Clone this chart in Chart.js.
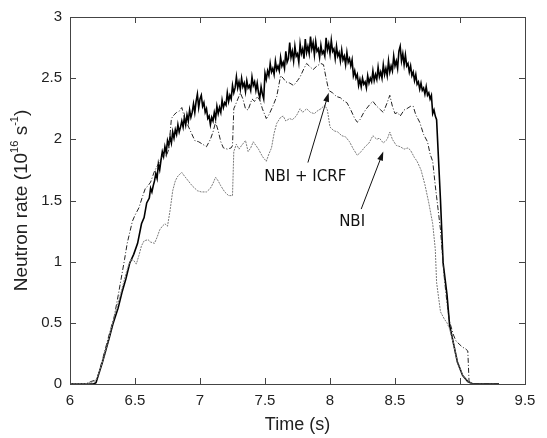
<!DOCTYPE html>
<html>
<head>
<meta charset="utf-8">
<script src="https://cdn.jsdelivr.net/npm/chart.js@4.4.0/dist/chart.umd.min.js"></script>
<style>
  html, body { margin: 0; padding: 0; background: #fff; }
  #wrap { width: 547px; height: 438px; }
</style>
</head>
<body>
<div id="wrap"><canvas id="chart" width="547" height="438"></canvas></div>
<script>
// tick values and labels
const xTicks = [6, 6.5, 7, 7.5, 8, 8.5, 9, 9.5];
const xTickLabels = ['6', '6.5', '7', '7.5', '8', '8.5', '9', '9.5'];
const yTicks = [0, 0.5, 1, 1.5, 2, 2.5, 3];
const yTickLabels = ['0', '0.5', '1', '1.5', '2', '2.5', '3'];

// solid black trace (time in s, rate in 1e16 /s)
const tSolid = [6.00, 6.18, 6.20, 6.25, 6.30, 6.33, 6.37, 6.40, 6.43, 6.46, 6.49, 6.52, 6.55, 6.57, 6.59,
  6.61, 6.62, 6.63, 6.64, 6.65, 6.66, 6.67, 6.68, 6.69, 6.70,
  6.71, 6.72, 6.73, 6.74, 6.75, 6.76, 6.77, 6.78, 6.79, 6.80,
  6.81, 6.82, 6.83, 6.84, 6.85, 6.86, 6.87, 6.88, 6.89, 6.90,
  6.91, 6.92, 6.93, 6.94, 6.95, 6.96, 6.97, 6.98, 6.99, 7.00,
  7.01, 7.02, 7.03, 7.04, 7.05, 7.06, 7.07, 7.08, 7.09, 7.10,
  7.11, 7.12, 7.13, 7.14, 7.15, 7.16, 7.17, 7.18, 7.19, 7.20,
  7.21, 7.22, 7.23, 7.24, 7.25, 7.26, 7.27, 7.28, 7.29, 7.30,
  7.31, 7.32, 7.33, 7.34, 7.35, 7.36, 7.37, 7.38, 7.39, 7.40,
  7.41, 7.42, 7.43, 7.44, 7.45, 7.46, 7.47, 7.48, 7.49, 7.50,
  7.51, 7.52, 7.53, 7.54, 7.55, 7.56, 7.57, 7.58, 7.59, 7.60,
  7.61, 7.62, 7.63, 7.64, 7.65, 7.66, 7.67, 7.68, 7.69, 7.70,
  7.71, 7.72, 7.73, 7.74, 7.75, 7.76, 7.77, 7.78, 7.79, 7.80,
  7.81, 7.82, 7.83, 7.84, 7.85, 7.86, 7.87, 7.88, 7.89, 7.90,
  7.91, 7.92, 7.93, 7.94, 7.95, 7.96, 7.97, 7.98, 7.99, 8.00,
  8.01, 8.02, 8.03, 8.04, 8.05, 8.06, 8.07, 8.08, 8.09, 8.10,
  8.11, 8.12, 8.13, 8.14, 8.15, 8.16, 8.17, 8.18, 8.19, 8.20,
  8.21, 8.22, 8.23, 8.24, 8.25, 8.26, 8.27, 8.28, 8.29, 8.30,
  8.31, 8.32, 8.33, 8.34, 8.35, 8.36, 8.37, 8.38, 8.39, 8.40,
  8.41, 8.42, 8.43, 8.44, 8.45, 8.46, 8.47, 8.48, 8.49, 8.50,
  8.51, 8.52, 8.53, 8.54, 8.55, 8.56, 8.57, 8.58, 8.59, 8.60,
  8.61, 8.62, 8.63, 8.64, 8.65, 8.66, 8.67, 8.68, 8.69, 8.70,
  8.71, 8.72, 8.73, 8.74, 8.75, 8.76, 8.77, 8.78, 8.79, 8.80,
  8.81, 8.82, 8.85, 8.87, 8.90, 8.92, 8.95, 8.98, 9.02, 9.06, 9.10, 9.30];
const nSolid = [0.00, 0.00, 0.01, 0.18, 0.37, 0.49, 0.62, 0.75, 0.86, 0.99, 1.06, 1.15, 1.31, 1.36, 1.48,
  1.52, 1.60, 1.57, 1.62, 1.66, 1.72, 1.68, 1.80, 1.75, 1.83,
  1.90, 1.86, 1.94, 1.89, 1.99, 1.95, 2.02, 1.97, 2.06, 2.01,
  2.08, 2.04, 2.12, 2.06, 2.10, 2.15, 2.10, 2.18, 2.12, 2.20,
  2.15, 2.24, 2.18, 2.22, 2.29, 2.22, 2.31, 2.37, 2.26, 2.33,
  2.36, 2.27, 2.30, 2.22, 2.25, 2.17, 2.19, 2.12, 2.18, 2.15,
  2.22, 2.17, 2.27, 2.21, 2.26, 2.22, 2.32, 2.26, 2.30, 2.28,
  2.38, 2.31, 2.36, 2.33, 2.44, 2.38, 2.42, 2.51, 2.42, 2.47,
  2.41, 2.50, 2.43, 2.46, 2.39, 2.48, 2.42, 2.44, 2.40, 2.51,
  2.44, 2.47, 2.40, 2.46, 2.38, 2.34, 2.43, 2.37, 2.33, 2.54,
  2.49, 2.56, 2.52, 2.62, 2.55, 2.58, 2.53, 2.64, 2.57, 2.60,
  2.56, 2.67, 2.60, 2.63, 2.58, 2.72, 2.63, 2.66, 2.79, 2.67,
  2.72, 2.64, 2.76, 2.68, 2.70, 2.63, 2.78, 2.70, 2.74, 2.66,
  2.82, 2.71, 2.76, 2.70, 2.84, 2.74, 2.79, 2.69, 2.80, 2.72,
  2.74, 2.67, 2.77, 2.70, 2.72, 2.68, 2.83, 2.73, 2.78, 2.70,
  2.81, 2.72, 2.74, 2.66, 2.76, 2.68, 2.71, 2.64, 2.73, 2.65,
  2.68, 2.61, 2.71, 2.63, 2.66, 2.60, 2.65, 2.52, 2.56, 2.50,
  2.53, 2.44, 2.49, 2.43, 2.50, 2.45, 2.47, 2.42, 2.52, 2.46,
  2.50, 2.47, 2.56, 2.48, 2.53, 2.49, 2.59, 2.51, 2.55, 2.50,
  2.61, 2.53, 2.58, 2.52, 2.64, 2.55, 2.60, 2.56, 2.68, 2.60,
  2.64, 2.58, 2.72, 2.76, 2.64, 2.70, 2.61, 2.69, 2.60, 2.62,
  2.55, 2.60, 2.52, 2.55, 2.48, 2.53, 2.45, 2.47, 2.41, 2.46,
  2.40, 2.42, 2.37, 2.43, 2.36, 2.38, 2.33, 2.36, 2.21, 2.24,
  2.19, 2.16, 1.50, 0.99, 0.73, 0.48, 0.33, 0.18, 0.07, 0.02, 0.00, 0.00];

// dash-dot trace
const tDash = [6.00, 6.12, 6.16, 6.19, 6.21, 6.25, 6.30, 6.34, 6.37, 6.40, 6.42, 6.44, 6.46, 6.48, 6.50, 6.53, 6.56, 6.58, 6.60, 6.62,
  6.65, 6.68, 6.70, 6.72, 6.74, 6.76, 6.78, 6.80, 6.82, 6.84, 6.86, 6.88, 6.90, 6.93, 6.96, 6.99, 7.02, 7.05, 7.08, 7.10,
  7.12, 7.14, 7.16, 7.18, 7.21, 7.24, 7.25, 7.26, 7.28, 7.31, 7.33, 7.35, 7.37, 7.40, 7.42, 7.44, 7.46, 7.48, 7.51, 7.53,
  7.56, 7.59, 7.62, 7.64, 7.66, 7.69, 7.72, 7.75, 7.77, 7.80, 7.82, 7.85, 7.87, 7.90, 7.93, 7.95, 7.97, 7.99, 8.02, 8.05,
  8.08, 8.11, 8.13, 8.16, 8.19, 8.21, 8.23, 8.26, 8.28, 8.31, 8.33, 8.36, 8.39, 8.41, 8.44, 8.46, 8.48, 8.50, 8.52, 8.54,
  8.57, 8.59, 8.62, 8.64, 8.66, 8.69, 8.72, 8.75, 8.77, 8.79, 8.81, 8.82, 8.85, 8.88, 8.90, 8.92, 8.95, 8.97, 9.00, 9.02,
  9.04, 9.06, 9.07, 9.10, 9.30];
const nDash = [0.00, 0.00, 0.02, 0.03, 0.05, 0.20, 0.40, 0.55, 0.72, 0.90, 1.02, 1.15, 1.24, 1.33, 1.38, 1.44, 1.54, 1.60, 1.62, 1.65,
  1.74, 1.80, 1.84, 1.88, 1.86, 1.92, 2.17, 2.20, 2.22, 2.23, 2.26, 2.18, 2.13, 2.06, 1.99, 1.98, 1.96, 1.94, 2.00, 2.06,
  2.14, 2.07, 1.98, 1.93, 1.92, 1.93, 1.95, 2.25, 2.30, 2.38, 2.33, 2.25, 2.24, 2.33, 2.31, 2.35, 2.32, 2.25, 2.17, 2.20,
  2.27, 2.35, 2.52, 2.50, 2.47, 2.46, 2.44, 2.48, 2.51, 2.58, 2.62, 2.59, 2.57, 2.60, 2.62, 2.61, 2.50, 2.40, 2.38, 2.35,
  2.34, 2.31, 2.30, 2.24, 2.17, 2.14, 2.16, 2.22, 2.25, 2.29, 2.31, 2.27, 2.24, 2.22, 2.30, 2.36, 2.27, 2.21, 2.22, 2.19,
  2.24, 2.25, 2.27, 2.27, 2.20, 2.14, 2.04, 1.98, 1.88, 1.82, 1.62, 1.53, 1.26, 0.86, 0.66, 0.51, 0.40, 0.35, 0.32, 0.30,
  0.29, 0.27, 0.01, 0.00, 0.00];

// grey dotted trace
const tGray = [6.00, 6.12, 6.15, 6.18, 6.20, 6.22, 6.26, 6.30, 6.34, 6.37, 6.40, 6.43, 6.45, 6.47, 6.49, 6.51, 6.53, 6.55, 6.57, 6.60,
  6.62, 6.65, 6.67, 6.69, 6.71, 6.73, 6.75, 6.77, 6.79, 6.81, 6.83, 6.86, 6.88, 6.91, 6.94, 6.98, 7.01, 7.05, 7.08, 7.10,
  7.12, 7.14, 7.16, 7.19, 7.22, 7.25, 7.26, 7.28, 7.30, 7.32, 7.35, 7.37, 7.39, 7.41, 7.43, 7.45, 7.48, 7.51, 7.53, 7.55,
  7.57, 7.59, 7.62, 7.64, 7.66, 7.69, 7.71, 7.74, 7.77, 7.79, 7.82, 7.85, 7.88, 7.90, 7.93, 7.96, 7.98, 8.00, 8.03, 8.06,
  8.09, 8.12, 8.15, 8.18, 8.21, 8.24, 8.27, 8.30, 8.33, 8.36, 8.38, 8.41, 8.44, 8.46, 8.48, 8.51, 8.54, 8.57, 8.60, 8.62,
  8.65, 8.67, 8.70, 8.73, 8.76, 8.79, 8.81, 8.82, 8.85, 8.88, 8.90, 8.92, 8.95, 8.98, 9.02, 9.06, 9.10];
const nGray = [0.00, 0.00, 0.01, 0.02, 0.03, 0.08, 0.22, 0.38, 0.55, 0.66, 0.78, 0.90, 0.97, 1.02, 1.01, 0.98, 1.05, 1.13, 1.17, 1.18,
  1.16, 1.15, 1.20, 1.26, 1.29, 1.31, 1.29, 1.42, 1.58, 1.66, 1.70, 1.73, 1.70, 1.66, 1.62, 1.58, 1.57, 1.57, 1.60, 1.64,
  1.69, 1.66, 1.62, 1.57, 1.54, 1.54, 1.90, 1.96, 1.92, 1.95, 1.99, 1.90, 1.93, 1.98, 1.95, 1.92, 1.86, 1.82, 1.88, 1.93,
  2.05, 2.13, 2.18, 2.19, 2.15, 2.17, 2.16, 2.19, 2.25, 2.22, 2.25, 2.22, 2.21, 2.23, 2.25, 2.28, 2.24, 2.10, 2.07, 2.06,
  2.03, 2.02, 1.98, 1.92, 1.87, 1.90, 1.94, 1.97, 2.03, 2.00, 2.01, 1.97, 2.00, 2.06, 2.00, 1.95, 1.94, 1.92, 1.93, 1.91,
  1.85, 1.82, 1.75, 1.63, 1.48, 1.31, 1.10, 0.83, 0.59, 0.53, 0.50, 0.45, 0.33, 0.18, 0.07, 0.02, 0.00];

// annotation labels with arrows (data coords)
const notes = [
  { text: 'NBI + ICRF', at: [7.81, 1.69], from: [7.83, 1.81], to: [7.99, 2.38] },
  { text: 'NBI', at: [8.17, 1.32], from: [8.24, 1.43], to: [8.41, 1.90] }
];

const pts = (t, v) => t.map((x, i) => ({ x: x, y: v[i] }));
const FONT = '"Liberation Sans", Arial, sans-serif';

const framePlugin = {
  id: 'frame',
  afterDraw(chart) {
    const ctx = chart.ctx;
    const a = chart.chartArea;
    const xs = chart.scales.x, ys = chart.scales.y;
    ctx.save();
    ctx.strokeStyle = '#444';
    ctx.lineWidth = 1;
    ctx.strokeRect(Math.round(a.left) + 0.5, Math.round(a.top) + 0.5,
      Math.round(a.right - a.left), Math.round(a.bottom - a.top));
    ctx.beginPath();
    xTicks.forEach(v => {
      const px = Math.round(xs.getPixelForValue(v)) + 0.5;
      ctx.moveTo(px, a.bottom); ctx.lineTo(px, a.bottom - 6);
      ctx.moveTo(px, a.top); ctx.lineTo(px, a.top + 6);
    });
    yTicks.forEach(v => {
      const py = Math.round(ys.getPixelForValue(v)) + 0.5;
      ctx.moveTo(a.left, py); ctx.lineTo(a.left + 6, py);
      ctx.moveTo(a.right, py); ctx.lineTo(a.right - 6, py);
    });
    ctx.stroke();

    // y title with superscripts
    const parts = [
      ['Neutron rate (10', 19, 0], ['16', 11, -7], [' s', 19, 0], ['-1', 11, -7], [')', 19, 0]
    ];
    let total = 0;
    parts.forEach(p => { ctx.font = p[1] + 'px ' + FONT; total += ctx.measureText(p[0]).width; });
    ctx.translate(22, (a.top + a.bottom) / 2);
    ctx.rotate(-Math.PI / 2);
    ctx.fillStyle = '#222';
    ctx.textBaseline = 'middle';
    ctx.textAlign = 'left';
    let cx = -total / 2;
    parts.forEach(p => {
      ctx.font = p[1] + 'px ' + FONT;
      ctx.fillText(p[0], cx, p[2]);
      cx += ctx.measureText(p[0]).width;
    });
    ctx.restore();

    // annotations
    ctx.save();
    ctx.fillStyle = '#111';
    ctx.strokeStyle = '#111';
    ctx.font = '15px "DejaVu Sans", Verdana, sans-serif';
    ctx.textAlign = 'center';
    ctx.textBaseline = 'middle';
    notes.forEach(n => {
      ctx.fillText(n.text, xs.getPixelForValue(n.at[0]), ys.getPixelForValue(n.at[1]));
      const x0 = xs.getPixelForValue(n.from[0]), y0 = ys.getPixelForValue(n.from[1]);
      const x1 = xs.getPixelForValue(n.to[0]), y1 = ys.getPixelForValue(n.to[1]);
      const ang = Math.atan2(y1 - y0, x1 - x0);
      ctx.lineWidth = 1;
      ctx.beginPath();
      ctx.moveTo(x0, y0);
      ctx.lineTo(x1 - 6 * Math.cos(ang), y1 - 6 * Math.sin(ang));
      ctx.stroke();
      ctx.beginPath();
      ctx.moveTo(x1, y1);
      ctx.lineTo(x1 - 9 * Math.cos(ang) + 3 * Math.sin(ang), y1 - 9 * Math.sin(ang) - 3 * Math.cos(ang));
      ctx.lineTo(x1 - 9 * Math.cos(ang) - 3 * Math.sin(ang), y1 - 9 * Math.sin(ang) + 3 * Math.cos(ang));
      ctx.closePath();
      ctx.fill();
    });
    ctx.restore();
  }
};

new Chart(document.getElementById('chart'), {
  type: 'line',
  data: {
    datasets: [
      { data: pts(tGray, nGray), borderColor: '#7a7a7a', borderWidth: 1, borderDash: [2, 1], pointRadius: 0, tension: 0 },
      { data: pts(tDash, nDash), borderColor: '#222', borderWidth: 1, borderDash: [5, 2, 1, 2], pointRadius: 0, tension: 0 },
      { data: pts(tSolid, nSolid), borderColor: '#000', borderWidth: 1.6, pointRadius: 0, tension: 0 }
    ]
  },
  options: {
    responsive: false,
    animation: false,
    layout: { padding: { top: 9, right: 22, bottom: 0, left: 0 } },
    plugins: { legend: { display: false }, tooltip: { enabled: false } },
    scales: {
      x: {
        type: 'linear', min: 6, max: 9.5,
        afterBuildTicks: s => { s.ticks = xTicks.map(v => ({ value: v })); },
        afterFit: s => { s.height = 54; },
        grid: { display: false, drawTicks: false },
        border: { display: false },
        ticks: {
          padding: 8, color: '#222', font: { family: FONT, size: 15 },
          callback: (v, i) => xTickLabels[i]
        },
        title: { display: true, text: 'Time (s)', color: '#222', font: { family: FONT, size: 18 }, padding: { top: 0, bottom: 2 } }
      },
      y: {
        type: 'linear', min: 0, max: 3,
        afterBuildTicks: s => { s.ticks = yTicks.map(v => ({ value: v })); },
        afterFit: s => { s.width = 70; },
        grid: { display: false, drawTicks: false },
        border: { display: false },
        ticks: {
          padding: 8, color: '#222', font: { family: FONT, size: 15 },
          callback: (v, i) => yTickLabels[i]
        }
      }
    }
  },
  plugins: [framePlugin]
});
</script>
</body>
</html>
